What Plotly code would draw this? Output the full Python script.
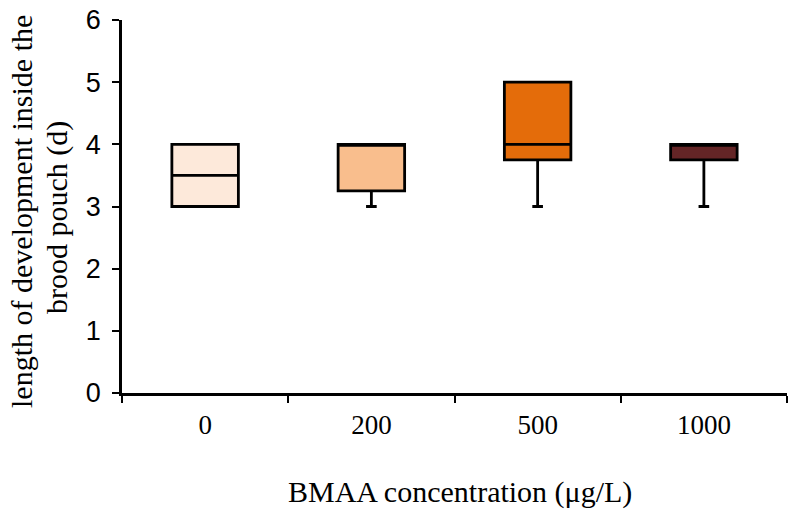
import plotly.graph_objects as go

categories = ["0", "200", "500", "1000"]
q1 = [3.0, 3.25, 3.75, 3.75]
median = [3.5, 4.0, 4.0, 4.0]
q3 = [4.0, 4.0, 5.0, 4.0]
lower = [3.0, 3.0, 3.0, 3.0]
upper = [4.0, 4.0, 5.0, 4.0]
colors = ["#FDE9DA", "#F9BE8D", "#E46C0A", "#642526"]

serif = "Liberation Serif, Times New Roman, serif"
sans = "Liberation Sans, Arial, sans-serif"

fig = go.Figure()
for i, c in enumerate(categories):
    fig.add_trace(go.Box(
        x=[c], q1=[q1[i]], median=[median[i]], q3=[q3[i]],
        lowerfence=[lower[i]], upperfence=[upper[i]],
        fillcolor=colors[i], line=dict(color="black", width=2.8),
        whiskerwidth=0.16, width=0.4, showlegend=False, boxpoints=False,
    ))

fig.update_layout(
    width=796, height=518,
    margin=dict(l=122, r=9, t=20, b=125),
    plot_bgcolor="white", paper_bgcolor="white",
    xaxis=dict(
        type="category", categoryorder="array", categoryarray=categories,
        tickson="boundaries", ticks="outside", ticklen=7, tickwidth=2, tickcolor="black",
        showline=True, linecolor="black", linewidth=2.5, showgrid=False,
        tickfont=dict(family=serif, size=27, color="black"),
        ticklabelstandoff=6, automargin=False, ticklabeloverflow="allow",
        range=[-0.5, 3.5],
    ),
    yaxis=dict(
        range=[0, 6], dtick=1, ticks="outside", ticklen=7, tickwidth=2, tickcolor="black",
        showline=True, linecolor="black", linewidth=2.5, showgrid=False, zeroline=False,
        tickfont=dict(family=sans, size=27, color="black"),
        ticklabelstandoff=6, automargin=False, ticklabeloverflow="allow",
    ),
    annotations=[
        dict(text="BMAA concentration (μg/L)", xref="paper", yref="paper",
             x=0.508, y=-0.265, xanchor="center", yanchor="middle", showarrow=False,
             font=dict(family=serif, size=30, color="black")),
        dict(text="length of development inside the", xref="paper", yref="paper",
             x=-0.1504, y=0.488, xanchor="center", yanchor="middle", showarrow=False, textangle=-90,
             font=dict(family=serif, size=30, color="black")),
        dict(text="brood pouch (d)", xref="paper", yref="paper",
             x=-0.0977, y=0.469, xanchor="center", yanchor="middle", showarrow=False, textangle=-90,
             font=dict(family=serif, size=30, color="black")),
    ],
)
fig.write_html("out.html", config={"displayModeBar": False},
               post_script="document.body.style.margin='0';document.documentElement.style.overflow='hidden';")
